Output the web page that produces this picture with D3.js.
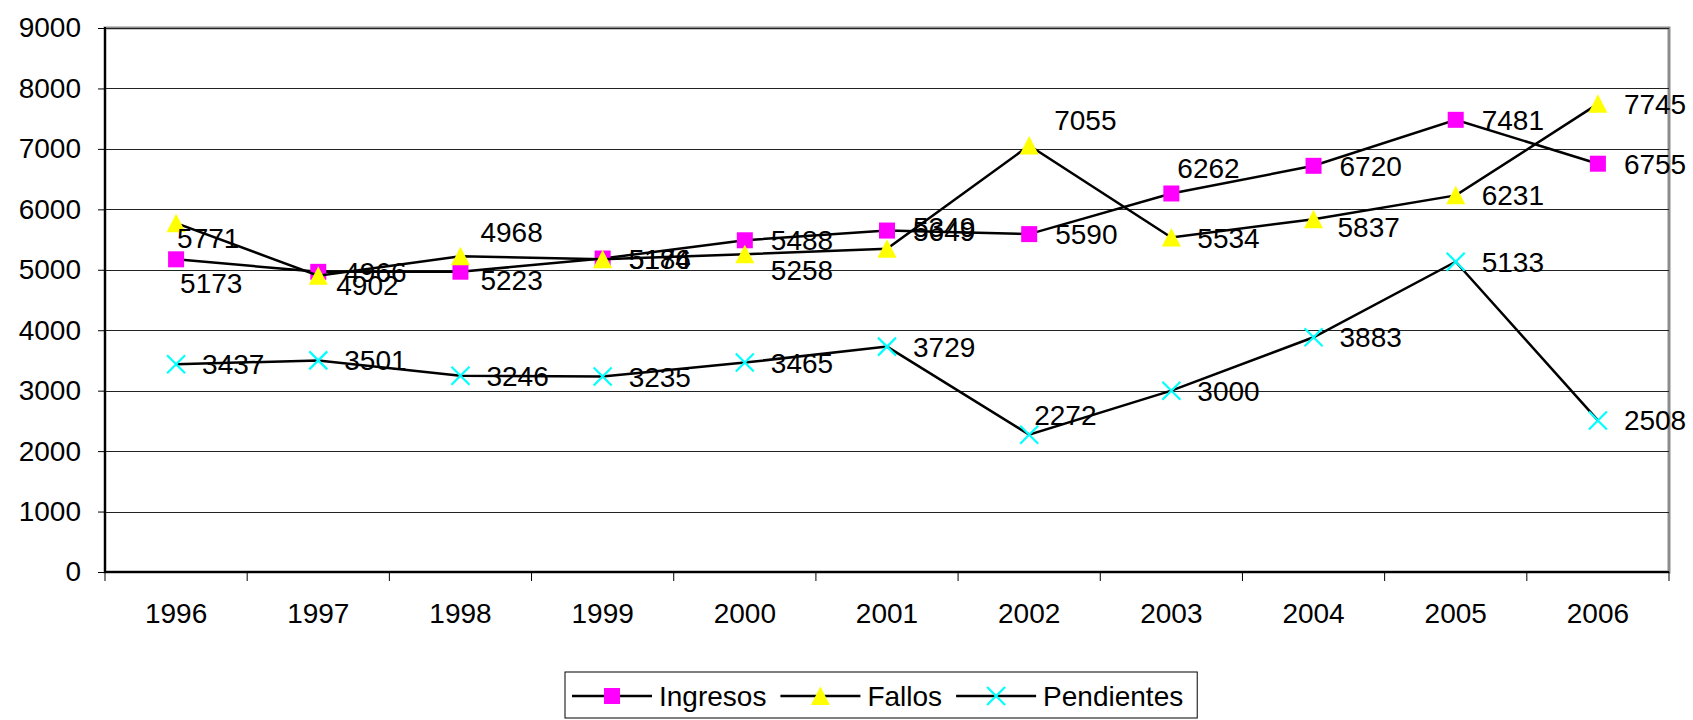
<!DOCTYPE html>
<html>
<head>
<meta charset="utf-8">
<script src="https://cdn.jsdelivr.net/npm/d3@7"></script>
<style>
  body { margin: 0; background: #fff; }
  text { font-family: Arial, "Liberation Sans", sans-serif; fill: #000; }
</style>
</head>
<body>
<script>
// values
var years = ["1996", "1997", "1998", "1999", "2000", "2001", "2002", "2003", "2004", "2005", "2006"];
var ingresos = [5173, 4966, 4968, 5186, 5488, 5649, 5590, 6262, 6720, 7481, 6755];
var fallos = [5771, 4902, 5223, 5174, 5258, 5349, 7055, 5534, 5837, 6231, 7745];
var pendientes = [3437, 3501, 3246, 3235, 3465, 3729, 2272, 3000, 3883, 5133, 2508];
var yTicks = [0, 1000, 2000, 3000, 4000, 5000, 6000, 7000, 8000, 9000];

// label nudges (dragged labels in the original), default is right of point
var labelNudge = {
	"Ingresos": { "1996": [4, 24], "1998": [20, -40], "2003": [6, -26] },
	"Fallos": { "1996": [1, 15], "1997": [18, 9], "1998": [20, 24], "2000": [26, 16],
		"2001": [26, -22], "2002": [25, -26], "2004": [24, 8] },
	"Pendientes": { "2002": [5, -20] }
};

var series = [
	{ name: "Ingresos", values: ingresos, color: "#ff00ff", marker: "square" },
	{ name: "Fallos", values: fallos, color: "#ffff00", marker: "triangle" },
	{ name: "Pendientes", values: pendientes, color: "#00ffff", marker: "cross" }
];

var W = 1693, H = 720;
var plotLeft = 105, plotRight = 1669, plotTop = 28, plotBottom = 572;

var svg = d3.select("body").append("svg")
	.attr("width", W)
	.attr("height", H);

var x = d3.scaleBand().domain(years).range([plotLeft, plotRight]).padding(0);
var y = d3.scaleLinear().domain([0, 9000]).range([plotBottom, plotTop]);
var cx = function(d, i) { return x(years[i]) + x.bandwidth() / 2; };

// plot area border
svg.append("rect")
	.attr("x", plotLeft).attr("y", plotTop)
	.attr("width", plotRight - plotLeft).attr("height", plotBottom - plotTop)
	.attr("fill", "none")
	.attr("stroke", "#8c8c8c")
	.attr("stroke-width", 3);

// gridlines
svg.append("g").selectAll("line")
	.data(yTicks.filter(function(t) { return t > 0; }))
	.enter().append("line")
	.attr("x1", plotLeft).attr("x2", plotRight)
	.attr("y1", function(d) { return Math.round(y(d)) + 0.5; })
	.attr("y2", function(d) { return Math.round(y(d)) + 0.5; })
	.attr("stroke", "#222")
	.attr("stroke-width", 1);

// y axis
var yAxis = svg.append("g")
	.attr("transform", "translate(" + plotLeft + ",0)")
	.call(d3.axisLeft(y).tickValues(yTicks).tickFormat(d3.format("d"))
		.tickSize(7).tickPadding(17).tickSizeOuter(0));
yAxis.select(".domain").remove();
yAxis.selectAll("line").attr("stroke", "#000");
yAxis.selectAll("text").style("font-size", "28px")
	.style("font-family", "Arial, 'Liberation Sans', sans-serif");

// x axis labels
var xAxis = svg.append("g")
	.attr("transform", "translate(0," + plotBottom + ")")
	.call(d3.axisBottom(x).tickSize(0).tickPadding(31));
xAxis.select(".domain").remove();
xAxis.selectAll("text").style("font-size", "28px")
	.style("font-family", "Arial, 'Liberation Sans', sans-serif");

// x ticks at category boundaries
var edges = years.map(function(d) { return x(d); }).concat([plotRight]);
svg.append("g").selectAll("line")
	.data(edges)
	.enter().append("line")
	.attr("x1", function(d) { return d; })
	.attr("x2", function(d) { return d; })
	.attr("y1", plotBottom).attr("y2", plotBottom + 9)
	.attr("stroke", "#000").attr("stroke-width", 1);

// axis lines
svg.append("line")
	.attr("x1", plotLeft).attr("x2", plotLeft).attr("y1", plotTop - 1).attr("y2", plotBottom + 1)
	.attr("stroke", "#000").attr("stroke-width", 2);
svg.append("line")
	.attr("x1", plotLeft).attr("x2", plotRight).attr("y1", plotBottom).attr("y2", plotBottom)
	.attr("stroke", "#000").attr("stroke-width", 2);

function drawMarker(g, type, color) {
	if (type == "square") {
		g.append("rect")
			.attr("x", -8).attr("y", -8).attr("width", 16).attr("height", 16)
			.attr("fill", color);
	} else if (type == "triangle") {
		g.append("path")
			.attr("d", "M0,-9.5L9.5,9L-9.5,9Z")
			.attr("fill", color);
	} else {
		g.append("path")
			.attr("d", "M-9,-9L9,9M-9,9L9,-9")
			.attr("stroke", color)
			.attr("stroke-width", 2.2)
			.attr("fill", "none");
	}
}

var line = d3.line()
	.x(cx)
	.y(function(d) { return y(d); });

// series: line then markers
series.forEach(function(s) {
	svg.append("path")
		.datum(s.values)
		.attr("d", line)
		.attr("fill", "none")
		.attr("stroke", "#000")
		.attr("stroke-width", 2.5);

	svg.append("g").selectAll("g")
		.data(s.values)
		.enter().append("g")
		.attr("transform", function(d, i) { return "translate(" + cx(d, i) + "," + y(d) + ")"; })
		.each(function() { drawMarker(d3.select(this), s.marker, s.color); });
});

// data labels on top
series.forEach(function(s) {
	svg.append("g").selectAll("text")
		.data(s.values)
		.enter().append("text")
		.attr("x", function(d, i) {
			var n = labelNudge[s.name][years[i]];
			return cx(d, i) + (n ? n[0] : 26);
		})
		.attr("y", function(d, i) {
			var n = labelNudge[s.name][years[i]];
			return y(d) + (n ? n[1] : 0);
		})
		.attr("dy", "0.36em")
		.style("font-size", "28px")
		.text(function(d) { return d; });
});

// legend
var legend = svg.append("g");
var legBox = legend.append("rect")
	.attr("x", 565).attr("y", 672).attr("height", 46)
	.attr("fill", "#fff").attr("stroke", "#000").attr("stroke-width", 1);

var lx = 572, ly = 696;
series.forEach(function(s) {
	legend.append("line")
		.attr("x1", lx).attr("x2", lx + 80).attr("y1", ly).attr("y2", ly)
		.attr("stroke", "#000").attr("stroke-width", 2.5);
	var m = legend.append("g").attr("transform", "translate(" + (lx + 40) + "," + ly + ")");
	drawMarker(m, s.marker, s.color);
	var t = legend.append("text")
		.attr("x", lx + 87).attr("y", ly).attr("dy", "0.36em")
		.style("font-size", "28px")
		.text(s.name);
	lx = lx + 87 + t.node().getComputedTextLength() + 14;
});
legBox.attr("width", lx - 565);
</script>
</body>
</html>
